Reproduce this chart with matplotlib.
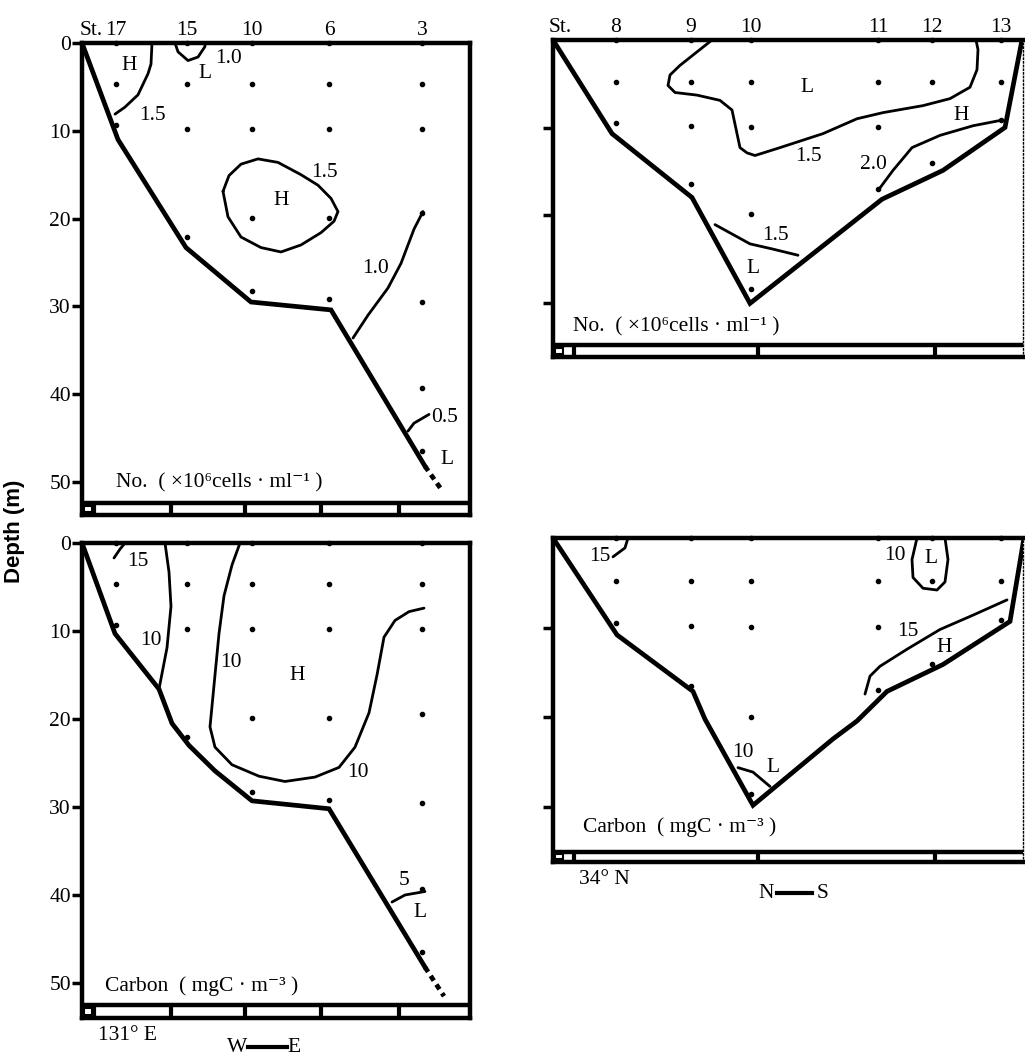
import matplotlib.pyplot as plt
from matplotlib.patches import Rectangle

# ---- W-E section (St.17 -> St.3) ----
we_names = ['17', '15', '10', '6', '3']
we_x = [3.4, 10.5, 17.0, 24.7, 34.0]
we_samples = [[0, 4.7, 9.3],
              [0, 4.7, 9.8, 22.1],
              [0, 4.7, 9.8, 19.9, 28.3],
              [0, 4.7, 9.8, 19.9, 29.2],
              [0, 4.7, 9.8, 19.4, 29.5, 39.3, 46.5]]
we_scale = [1.2, 8.9, 16.3, 23.9, 31.7]   # longitude marks on the bar

# bottom profile, cell number panel
no_we_bot_x = [0, 3.6, 10.4, 16.9, 24.9, 34.3]
no_we_bot_z = [0, 11.0, 23.3, 29.5, 30.4, 48.2]
no_we_dash_x = [34.3, 35.9]
no_we_dash_z = [48.2, 50.8]
# bottom profile, carbon panel
c_we_bot_x = [0, 3.3, 7.7, 9.0, 10.7, 13.3, 17.0, 24.7, 34.3]
c_we_bot_z = [0, 10.3, 16.6, 20.5, 23.0, 25.9, 29.3, 30.2, 48.2]
c_we_dash_x = [34.3, 36.2]
c_we_dash_z = [48.2, 51.5]

# isolines, cell number (x10^6 cells/ml), W-E
no_we_iso = [
    ([7.0, 6.9, 6.6, 5.6, 4.3, 3.3], [0, 2.4, 3.5, 5.9, 7.3, 8.1]),
    ([9.3, 9.6, 10.6, 11.6, 12.3, 12.3], [0, 1.0, 2.0, 1.6, 0.4, 0]),
    ([14.1, 14.6, 15.9, 17.9, 19.9, 21.9, 23.9, 25.2, 25.6, 24.9, 23.6, 21.9, 19.6, 17.6, 15.9, 14.7, 14.1],
     [16.9, 19.8, 22.1, 23.3, 23.8, 23.0, 21.6, 20.3, 19.2, 17.7, 16.2, 15.0, 13.6, 13.2, 13.8, 15.1, 16.9]),
    ([34.1, 33.2, 31.9, 30.6, 28.6, 27.1], [19.2, 21.2, 25.1, 27.9, 31.0, 33.6]),
    ([32.6, 33.2, 34.7], [44.2, 43.3, 42.3]),
]
no_we_txt = [('H', 4.7, 2.6), ('1.5', 7.0, 8.3), ('L', 12.3, 3.5), ('1.0', 14.7, 1.8),
             ('1.5', 24.2, 14.7), ('H', 19.9, 17.9), ('1.0', 29.4, 25.7),
             ('0.5', 36.3, 42.6), ('L', 36.5, 47.4)]

# isolines, carbon (mgC/m3), W-E
c_we_iso = [
    ([4.3, 3.8, 3.2], [0, 0.7, 1.7]),
    ([8.3, 8.7, 8.9, 8.5, 7.7], [0, 3.3, 7.2, 11.9, 16.6]),
    ([15.8, 15.0, 14.2, 13.7, 13.3, 12.8, 13.3, 15.0, 17.7, 20.3, 23.3, 25.7, 27.3, 28.7, 29.5, 30.2, 31.3, 32.7, 34.2],
     [0, 2.5, 6.0, 10.3, 15.0, 20.9, 23.2, 25.2, 26.5, 27.1, 26.6, 25.5, 23.2, 19.3, 15.0, 10.7, 8.8, 7.8, 7.4]),
    ([31.0, 32.3, 34.3], [40.8, 40.0, 39.6]),
]
c_we_txt = [('15', 5.6, 2.1), ('10', 6.9, 11.1), ('10', 14.9, 13.6), ('H', 21.5, 15.0),
            ('10', 27.6, 26.1), ('5', 32.2, 38.4), ('L', 33.8, 42.0)]

# ---- N-S section (St.8 -> St.13) ----
ns_names = ['8', '9', '10', '11', '12', '13']
ns_x = [6.3, 13.8, 19.8, 32.5, 37.9, 44.8]
ns_samples = [[0, 4.8, 9.5],
              [0, 4.8, 9.8, 16.5],
              [0, 4.8, 9.9, 19.9, 28.5],
              [0, 4.8, 9.9, 17.0],
              [0, 4.8, 14.0],
              [0, 4.8, 9.1]]
ns_scale = [2.1, 20.5, 38.2]

no_ns_bot_x = [0, 5.9, 13.9, 19.7, 32.9, 39.0, 45.2, 46.9]
no_ns_bot_z = [0, 10.7, 18.0, 30.1, 18.2, 14.9, 10.0, 0]
c_ns_bot_x = [0, 6.4, 14.0, 15.2, 20.0, 28.0, 30.4, 33.4, 39.0, 45.7, 47.1]
c_ns_bot_z = [0, 10.8, 17.1, 20.2, 29.8, 22.4, 20.4, 17.1, 14.1, 9.3, 0]

no_ns_iso = [
    ([15.9, 12.7, 11.7, 11.5, 12.2, 14.4, 16.7, 17.9, 18.4, 18.7, 19.4, 20.2, 22.7, 27.0, 30.4, 33.0, 37.0, 39.7, 41.7, 42.4, 42.5, 42.3],
     [0, 2.9, 4.0, 5.2, 6.0, 6.3, 6.9, 8.0, 10.7, 12.3, 12.9, 13.2, 12.3, 10.7, 9.0, 8.3, 7.5, 6.7, 5.4, 3.4, 1.1, 0]),
    ([32.7, 34.0, 35.9, 38.7, 42.0, 44.7], [16.9, 14.9, 12.3, 10.9, 9.8, 9.2]),
    ([16.2, 19.7, 22.0, 24.5], [21.1, 23.3, 23.9, 24.6]),
]
no_ns_txt = [('L', 25.4, 5.4), ('1.5', 25.5, 13.3), ('2.0', 32.0, 14.2), ('H', 40.8, 8.6),
             ('1.5', 22.2, 22.4), ('L', 20.0, 26.1)]

c_ns_iso = [
    ([7.5, 7.2, 6.0], [0, 1.1, 2.1]),
    ([36.4, 35.9, 36.0, 37.0, 38.4, 39.2, 39.5, 39.2], [0, 2.4, 4.4, 5.6, 5.8, 4.9, 2.4, 0]),
    ([31.2, 31.7, 32.7, 35.4, 38.7, 42.0, 45.4], [17.4, 15.4, 14.3, 12.4, 10.2, 8.6, 6.9]),
    ([18.5, 20.0, 21.7], [25.6, 26.1, 27.7]),
]
c_ns_txt = [('15', 4.7, 2.1), ('10', 34.2, 2.0), ('L', 37.8, 2.3), ('15', 35.5, 10.4),
            ('H', 39.1, 12.2), ('10', 19.0, 23.9), ('L', 22.0, 25.6)]

unit_no = 'No.  ( ×10⁶cells · ml⁻¹ )'
unit_c = 'Carbon  ( mgC · m⁻³ )'

W, H = 1025, 1059
FS = 15.5
SERIF = ['Liberation Serif', 'DejaVu Serif']
fig = plt.figure(figsize=(W / 100, H / 100), dpi=100)


def panel(l, r, t, scale, zmax, box_z, xmax, left_panel):
    ax = fig.add_axes([l / W, 1 - (t + zmax * scale) / H, (r - l) / W, zmax * scale / H])
    ax.set_xlim(0, xmax)
    ax.set_ylim(zmax, 0)
    ax.set_xticks([])
    for s in ax.spines.values():
        s.set_linewidth(3.2)
    if left_panel:
        ax.set_yticks([0, 10, 20, 30, 40, 50])
        ax.set_yticklabels(['0', '10', '20', '30', '40', '50'], family=SERIF, fontsize=FS)
    else:
        ax.set_yticks([10, 20, 30])
        ax.set_yticklabels([])
        ax.spines['right'].set_linewidth(1)
        ax.spines['right'].set_linestyle(':')
    ax.tick_params(axis='y', direction='out', length=7, width=2.5, pad=1)
    ax.axhline(box_z, color='k', lw=3.2)
    return ax


def fill(ax, xs, samples, bot_x, bot_z, dash_x, dash_z, iso, txt, divs, box_z, zmax, unit, unit_xy):
    for x, d in zip(xs, samples):
        ax.plot([x] * len(d), d, 'o', color='k', ms=3, clip_on=False)
    ax.plot(bot_x, bot_z, 'k-', lw=3.4, solid_joinstyle='miter')
    if dash_x:
        ax.plot(dash_x, dash_z, 'k', lw=3.4, linestyle=(0, (1.2, 1.0)))
    for cx, cz in iso:
        ax.plot(cx, cz, 'k-', lw=2.0, solid_joinstyle='round', solid_capstyle='round')
    for s, x, z in txt:
        ax.text(x, z, s, family=SERIF, fontsize=FS, ha='center', va='center')
    ax.vlines(divs, box_z, zmax, color='k', lw=3)
    h = zmax - box_z
    ax.add_patch(Rectangle((0.2, box_z + 0.25 * h), 0.75, 0.5 * h, fc='white', ec='k', lw=1.5))
    ax.text(unit_xy[0], unit_xy[1], unit, family=SERIF, fontsize=FS, ha='left', va='center')


def station_labels(ax, xs, names, st_x):
    ax.annotate('St.', (st_x, 0), xytext=(0, 2), textcoords='offset points',
                ha='center', va='bottom', family=SERIF, fontsize=FS, annotation_clip=False)
    for x, n in zip(xs, names):
        ax.annotate(n, (x, 0), xytext=(0, 2), textcoords='offset points',
                    ha='center', va='bottom', family=SERIF, fontsize=FS, annotation_clip=False)


# top-left: cell number, W-E
ax1 = panel(82, 470, 43, 8.78, 53.8, 52.4, 38.8, True)
fill(ax1, we_x, we_samples, no_we_bot_x, no_we_bot_z, no_we_dash_x, no_we_dash_z,
     no_we_iso, no_we_txt, we_scale, 52.4, 53.8, unit_no, (3.4, 50.1))
station_labels(ax1, we_x, we_names, 0.9)

# bottom-left: carbon, W-E
ax2 = panel(82, 470, 543, 8.8, 54.0, 52.5, 38.8, True)
fill(ax2, we_x, we_samples, c_we_bot_x, c_we_bot_z, c_we_dash_x, c_we_dash_z,
     c_we_iso, c_we_txt, we_scale, 52.5, 54.0, unit_c, (2.3, 50.3))
ax2.text(4.5, 56.0, '131° E', family=SERIF, fontsize=FS, ha='center', va='center', clip_on=False)
ax2.text(15.5, 57.3, 'W', family=SERIF, fontsize=FS, ha='center', va='center', clip_on=False)
ax2.plot([16.6, 20.5], [57.3, 57.3], 'k-', lw=3, clip_on=False)
ax2.text(21.2, 57.3, 'E', family=SERIF, fontsize=FS, ha='center', va='center', clip_on=False)

# top-right: cell number, N-S
ax3 = panel(553, 1023, 40, 8.75, 36.2, 34.9, 47.0, False)
fill(ax3, ns_x, ns_samples, no_ns_bot_x, no_ns_bot_z, [], [],
     no_ns_iso, no_ns_txt, ns_scale, 34.9, 36.2, unit_no, (2.0, 32.8))
station_labels(ax3, ns_x, ns_names, 0.7)

# bottom-right: carbon, N-S
ax4 = panel(553, 1023, 538, 8.97, 36.1, 35.0, 47.0, False)
fill(ax4, ns_x, ns_samples, c_ns_bot_x, c_ns_bot_z, [], [],
     c_ns_iso, c_ns_txt, ns_scale, 35.0, 36.1, unit_c, (3.0, 32.2))
ax4.text(5.1, 38.1, '34° N', family=SERIF, fontsize=FS, ha='center', va='center', clip_on=False)
ax4.text(21.3, 39.6, 'N', family=SERIF, fontsize=FS, ha='center', va='center', clip_on=False)
ax4.plot([22.4, 25.9], [39.6, 39.6], 'k-', lw=3, clip_on=False)
ax4.text(27.0, 39.6, 'S', family=SERIF, fontsize=FS, ha='center', va='center', clip_on=False)

fig.text(15 / W, 1 - 531 / H, 'Depth (m)', rotation=90, ha='center', va='center',
         family='Liberation Sans', fontweight='bold', fontsize=16)

fig.savefig('out.png', dpi=100)
